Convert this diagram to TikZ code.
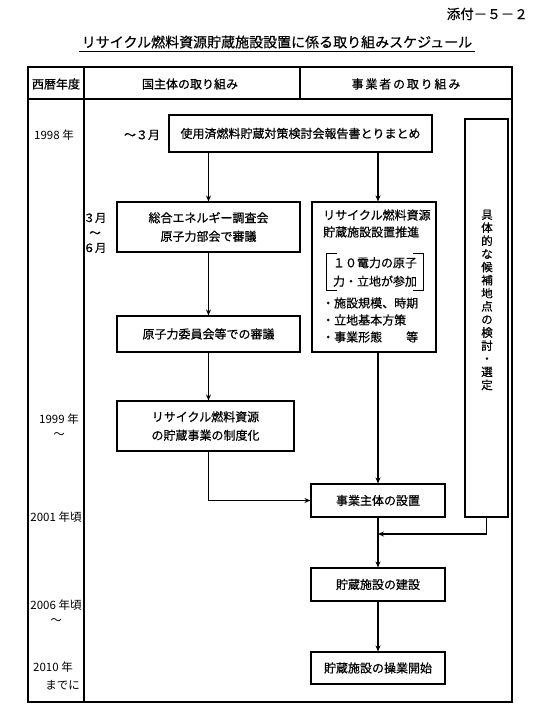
\documentclass[tikz,border=0pt]{standalone}
\usepackage{fontspec}
\setmainfont{Noto Sans CJK JP}
\newfontfamily\jpbold[FakeBold=0.6]{Noto Sans CJK JP}
\newfontfamily\jpwide[LetterSpace=15,FakeBold=0.6]{Noto Sans CJK JP}
\usetikzlibrary{arrows.meta,positioning}

\begin{document}
\begin{tikzpicture}[x=1pt,y=-1pt,>={Stealth[length=6pt,width=5pt,inset=2pt]},font=\jpbold\fontsize{12}{18.5}\selectfont]
	\tikzstyle{box}=[rectangle, draw=black, line width=1.1pt, inner sep=0pt, align=center]
	\tikzstyle{txt}=[inner sep=0pt, align=left]
	\tikzstyle{year}=[inner sep=0pt, align=center, font=\rmfamily\fontsize{11.5}{15}\selectfont]
	\tikzstyle{flow}=[->, line width=1.1pt]
	\tikzstyle{rule}=[line width=1.1pt]

	\useasboundingbox (0,0) rectangle (540,724);

	% heading
	\node [txt, anchor=east, font=\jpbold\fontsize{13.5}{16}\selectfont] (annex) at (528,14) {添付－５－２};
	\node [txt, font=\jpbold\fontsize{14}{16}\selectfont] (title) at (277,42) {リサイクル燃料資源貯蔵施設設置に係る取り組みスケジュール};
	\draw [line width=1pt] ([xshift=-3pt,yshift=-3pt]title.south west) -- ([xshift=3pt,yshift=-3pt]title.south east);

	% table
	\draw [rule] (28,67) rectangle (512,702);
	\draw [rule] (28,99) -- (512,99);
	\draw [rule] (84,67) -- (84,702);
	\draw [rule] (300,67) -- (300,99);
	\node [txt] (hyear) at (56,84) {西暦年度};
	\node [txt] (hstate) at (190,84) {国主体の取り組み};
	\node [txt, font=\jpwide\fontsize{12}{14}\selectfont] (hfirm) at (406,84) {事業者の取り組み};

	% years
	\node [year] (y1998) at (54,135) {1998 年};
	\node [year, font=\jpbold\fontsize{11.5}{15}\selectfont] (m36) at (95,233) {３月\\～\\６月};
	\node [year] (y1999) at (59,426) {1999 年\\～};
	\node [year] (y2001) at (56,517) {2001 年頃};
	\node [year] (y2006) at (56,612) {2006 年頃\\～};
	\node [year, anchor=west] (y2010) at (33,667) {2010 年};
	\node [year, anchor=east] (y2010b) at (80,685) {までに};

	% boxes
	\node [txt] (till3) at (142,135) {～３月};
	\node [box, minimum width=263, minimum height=37] (report) at (300.5,133.5) {使用済燃料貯蔵対策検討会報告書とりまとめ};
	\node [box, minimum width=183, minimum height=50] (council) at (208.5,227) {総合エネルギー調査会\\原子力部会で審議};
	\node [box, minimum width=183, minimum height=36] (commission) at (208.5,334) {原子力委員会等での審議};
	\node [box, minimum width=177, minimum height=50] (system) at (205.5,426) {リサイクル燃料資源\\の貯蔵事業の制度化};
	\node [box, minimum width=124, minimum height=150] (promote) at (374,277) {};
	\node [txt, anchor=west] (promote1) at (323,215) {リサイクル燃料資源};
	\node [txt, anchor=west] (promote2) at (323,232) {貯蔵施設設置推進};
	\node [inner sep=0pt, minimum width=96, minimum height=36, align=center] (utility) at (375,272) {１０電力の原子\\力・立地が参加};
	\draw [line width=0.9pt] ([xshift=10pt]utility.north west) -- (utility.north west) -- (utility.south west) -- ([xshift=10pt]utility.south west);
	\draw [line width=0.9pt] ([xshift=-10pt]utility.north east) -- (utility.north east) -- (utility.south east) -- ([xshift=-10pt]utility.south east);
	\node [txt, anchor=west] (item1) at (322,303) {・施設規模、時期};
	\node [txt, anchor=west] (item2) at (322,320) {・立地基本方策};
	\node [txt, anchor=west] (item3) at (322,337) {・事業形態　　等};
	\node [box, minimum width=43, minimum height=398] (candidate) at (486.5,318) {};
	\node [inner sep=0pt, align=center, font=\jpbold\fontsize{11.5}{13.1}\selectfont] (candtext) at (487,300) {具\\体\\的\\な\\候\\補\\地\\点\\の\\検\\討\\・\\選\\定};
	\node [box, minimum width=134, minimum height=33] (entity) at (378,500.5) {事業主体の設置};
	\node [box, minimum width=134, minimum height=33] (build) at (378,584.5) {貯蔵施設の建設};
	\node [box, minimum width=134, minimum height=32] (operate) at (378,668) {貯蔵施設の操業開始};
	\coordinate (join) at (378,534);

	% connectors
	\draw [flow] (report.south -| council.north) -- (council.north);
	\draw [flow] (report.south -| entity.north) -- (promote.north -| entity.north);
	\draw [flow] (council.south) -- (commission.north);
	\draw [flow] (commission.south) -- (commission.south |- system.north);
	\draw [flow] (promote.south -| entity.north) -- (entity.north);
	\draw [flow] (system.south -| commission.south) |- (entity.west);
	\draw [flow] (candidate.south) |- (join);
	\draw [flow] (entity.south) -- (build.north);
	\draw [flow] (build.south) -- (operate.north);
\end{tikzpicture}
\end{document}
